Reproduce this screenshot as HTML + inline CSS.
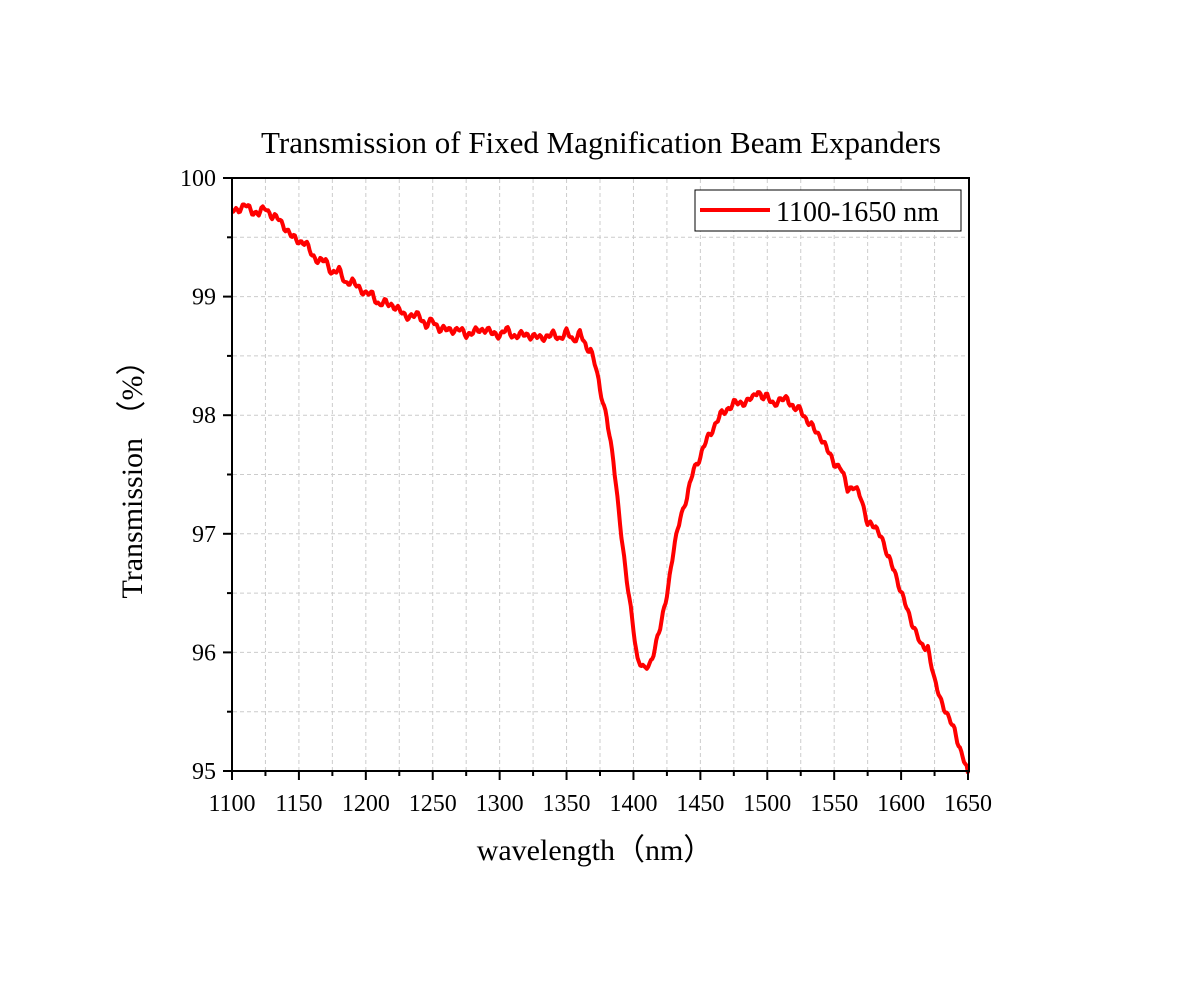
<!DOCTYPE html>
<html><head><meta charset="utf-8"><style>body{margin:0;background:#fff}svg{display:block}</style></head><body>
<svg id="s" width="1199" height="984" xmlns="http://www.w3.org/2000/svg" font-family="Liberation Serif, serif">
<rect width="1199" height="984" fill="#fff"/>
<g id="grid" stroke="#ccc" stroke-width="1" stroke-dasharray="4,3"></g>
<text x="601" y="153" font-size="31" text-anchor="middle">Transmission of Fixed Magnification Beam Expanders</text>
<polyline id="curve" fill="none" stroke="#f00" stroke-width="4" stroke-linejoin="round"/>
<rect x="232" y="178" width="737" height="593" fill="none" stroke="#000" stroke-width="2"/>
<g id="ticks" stroke="#000" stroke-width="2"></g>
<g id="labels" font-size="24"></g>
<text x="595" y="860" font-size="30" text-anchor="middle">wavelength（nm）</text>
<text transform="translate(142,472) rotate(-90)" font-size="30" text-anchor="middle">Transmission （%）</text>
<rect x="695" y="190" width="266" height="41" fill="#fff" stroke="#000" stroke-width="1"/>
<line x1="700" y1="210" x2="770" y2="210" stroke="#f00" stroke-width="4"/>
<text x="776" y="221" font-size="28">1100-1650 nm</text>
</svg>
<script>
var X=function(v){return 232+(v-1100)*1.3382},Y=function(v){return 178+(100-v)*118.6};
var g=document.getElementById('grid'),t=document.getElementById('ticks'),l=document.getElementById('labels'),ns='http://www.w3.org/2000/svg';
function ln(p,a,b,c,d){var e=document.createElementNS(ns,'line');e.setAttribute('x1',a);e.setAttribute('y1',b);e.setAttribute('x2',c);e.setAttribute('y2',d);p.appendChild(e)}
function tx(s,x,y,a){var e=document.createElementNS(ns,'text');e.setAttribute('x',x);e.setAttribute('y',y);e.setAttribute('text-anchor',a);e.textContent=s;l.appendChild(e)}
for(var v=1125;v<1650;v+=25)ln(g,X(v),179,X(v),770);
for(var y=95.5;y<100;y+=0.5)ln(g,233,Y(y),968,Y(y));
for(var v=1100;v<=1650;v+=25){var maj=v%50==0;ln(t,X(v),771,X(v),771+(maj?9:5));if(maj)tx(v,X(v),811,'middle')}
for(var y=95;y<=100;y+=0.5){var maj=y%1==0;ln(t,232,Y(y),232-(maj?9:5),Y(y));if(maj)tx(y,216,Y(y)+8,'end')}
var d=[[1100,99.72],[1105,99.74],[1110,99.77],[1115,99.72],[1120,99.70],[1125,99.75],[1130,99.68],[1135,99.65],[1140,99.58],[1145,99.5],[1150,99.47],[1155,99.45],[1160,99.35],[1165,99.3],[1170,99.3],[1175,99.2],[1180,99.22],[1185,99.12],[1190,99.12],[1195,99.08],[1200,99.02],[1205,99.02],[1210,98.93],[1215,98.95],[1220,98.93],[1225,98.88],[1230,98.84],[1235,98.83],[1240,98.85],[1245,98.75],[1250,98.8],[1255,98.73],[1260,98.72],[1270,98.72],[1275,98.68],[1280,98.7],[1290,98.73],[1295,98.68],[1300,98.68],[1305,98.72],[1310,98.67],[1320,98.68],[1330,98.65],[1340,98.68],[1345,98.65],[1350,98.7],[1355,98.63],[1360,98.7],[1365,98.55],[1368,98.57],[1372,98.4],[1375,98.2],[1380,98.0],[1385,97.6],[1390,97.1],[1395,96.6],[1400,96.2],[1403,95.95],[1408,95.85],[1412,95.9],[1415,96.0],[1420,96.2],[1425,96.5],[1430,96.85],[1435,97.15],[1440,97.3],[1445,97.55],[1450,97.65],[1455,97.8],[1460,97.9],[1465,98.0],[1470,98.05],[1475,98.1],[1480,98.1],[1485,98.12],[1490,98.15],[1493,98.22],[1496,98.15],[1500,98.15],[1505,98.1],[1510,98.12],[1515,98.15],[1520,98.05],[1525,98.05],[1530,97.95],[1535,97.88],[1540,97.82],[1545,97.7],[1550,97.6],[1555,97.55],[1560,97.38],[1565,97.4],[1570,97.3],[1575,97.1],[1580,97.05],[1585,97.0],[1590,96.8],[1595,96.7],[1600,96.5],[1605,96.35],[1610,96.2],[1615,96.05],[1620,96.05],[1625,95.75],[1630,95.6],[1635,95.45],[1640,95.35],[1645,95.15],[1650,94.98]];
var pts=[],j=0;
for(var x=1100;x<=1650;x+=1){while(j<d.length-2&&d[j+1][0]<x)j++;var a=d[j],b=d[j+1],f=(x-a[0])/(b[0]-a[0]);f=Math.max(0,Math.min(1,f));var v=a[1]+(b[1]-a[1])*f;v+=0.02*Math.sin(x*1.3)+0.015*Math.sin(x*0.55);if(x==1650)v=94.98;pts.push(X(x).toFixed(1)+','+Y(v).toFixed(1))}
document.getElementById('curve').setAttribute('points',pts.join(' '));
</script>
</body></html>
